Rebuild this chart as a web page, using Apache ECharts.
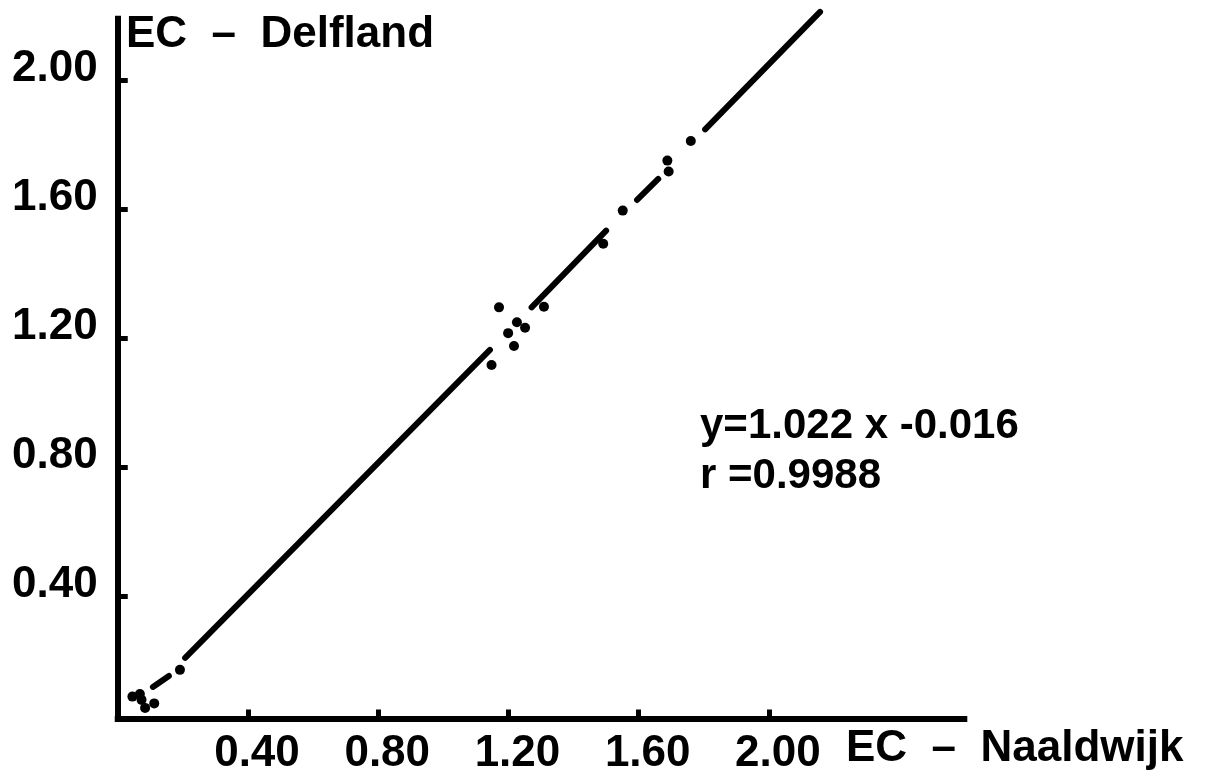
<!DOCTYPE html>
<html>
<head>
<meta charset="utf-8">
<script src="https://cdn.jsdelivr.net/npm/echarts@6/dist/echarts.min.js"></script>
<style>
  html, body { margin: 0; padding: 0; background: #fff; }
  #main { width: 1209px; height: 779px; }
</style>
</head>
<body>
<div id="main"></div>
<script>
// measured points (EC Naaldwijk vs EC Delfland)
const pointsX = [0.045, 0.068, 0.073, 0.084, 0.112, 0.191, 1.148, 1.171, 1.199, 1.217, 1.226, 1.251, 1.309, 1.491, 1.551, 1.688, 1.692, 1.760];
const pointsY = [0.088, 0.096, 0.078, 0.053, 0.067, 0.171, 1.116, 1.295, 1.215, 1.175, 1.249, 1.232, 1.297, 1.492, 1.595, 1.750, 1.716, 1.811];

// pieces of the fitted line as drawn (it is broken around the points)
const lineX0 = [0.108, 0.207, 1.271, 1.595, 1.804];
const lineY0 = [0.118, 0.208, 1.295, 1.628, 1.847];
const lineX1 = [0.157, 1.143, 1.500, 1.660, 2.157];
const lineY1 = [0.152, 1.163, 1.533, 1.693, 2.211];

const xTicks = [0.4, 0.8, 1.2, 1.6, 2.0];
const yTicks = [0.4, 0.8, 1.2, 1.6, 2.0];

const fitText = 'y=1.022 x -0.016';
const rText = 'r =0.9988';

const FONT = '"Liberation Sans", Arial, sans-serif';

const chart = echarts.init(document.getElementById('main'));

const segSeries = lineX0.map((x, i) => ({
    type: 'line',
    data: [[x, lineY0[i]], [lineX1[i], lineY1[i]]],
    symbol: 'none',
    clip: false,
    silent: true,
    lineStyle: { color: '#000', width: 6, cap: 'round' },
    z: 2
}));

chart.setOption({
    animation: false,
    backgroundColor: '#fff',
    grid: {
        left: 117.75,
        right: 244.7,
        top: 18.7,
        bottom: 60.45
    },
    xAxis: {
        type: 'value',
        min: 0,
        max: 2.6,
        splitLine: { show: false },
        axisLine: { show: true, onZero: false, lineStyle: { color: '#000', width: 6, cap: 'square' } },
        axisTick: { show: true, inside: true, length: 9, customValues: xTicks, lineStyle: { color: '#000', width: 5 } },
        axisLabel: {
            customValues: xTicks,
            formatter: v => v.toFixed(2),
            color: '#000',
            fontFamily: FONT,
            fontWeight: 'bold',
            fontSize: 44,
            margin: 13,
            padding: [0, 0, 0, 18]
        }
    },
    yAxis: {
        type: 'value',
        min: 0.02,
        max: 2.19,
        splitLine: { show: false },
        axisLine: { show: true, onZero: false, lineStyle: { color: '#000', width: 6, cap: 'square' } },
        axisTick: { show: true, inside: true, length: 10, customValues: yTicks, lineStyle: { color: '#000', width: 5 } },
        axisLabel: {
            customValues: yTicks,
            formatter: v => v.toFixed(2),
            color: '#000',
            fontFamily: FONT,
            fontWeight: 'bold',
            fontSize: 44,
            margin: 20,
            verticalAlign: 'bottom',
            lineHeight: 22
        }
    },
    graphic: [
        {
            type: 'text', left: 126, top: 13,
            style: { text: 'EC  –  Delfland', font: 'bold 44px ' + FONT, fill: '#000' }
        },
        {
            type: 'text', left: 846, top: 727,
            style: { text: 'EC  –  Naaldwijk', font: 'bold 44px ' + FONT, fill: '#000' }
        },
        {
            type: 'text', left: 700, top: 405,
            style: { text: fitText, font: 'bold 42px ' + FONT, fill: '#000' }
        },
        {
            type: 'text', left: 700, top: 455,
            style: { text: rText, font: 'bold 42px ' + FONT, fill: '#000' }
        }
    ],
    series: segSeries.concat([{
        type: 'scatter',
        data: pointsX.map((x, i) => [x, pointsY[i]]),
        symbol: 'circle',
        symbolSize: 10,
        itemStyle: { color: '#000', opacity: 1 },
        z: 3
    }])
});
</script>
</body>
</html>
